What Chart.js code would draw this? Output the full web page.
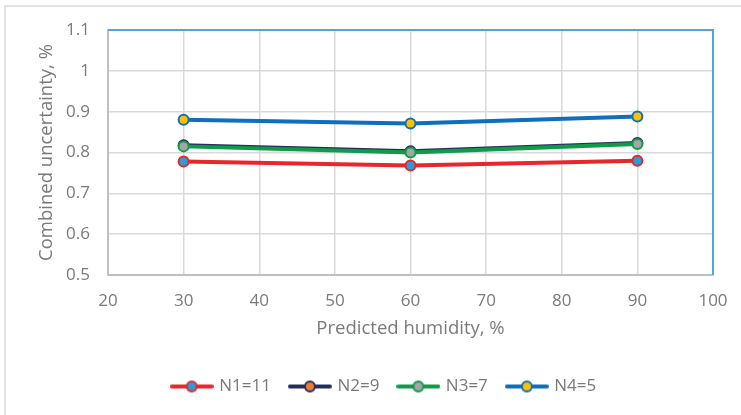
<!DOCTYPE html>
<html>
<head>
<meta charset="utf-8">
<script src="https://cdn.jsdelivr.net/npm/chart.js@4.4.1/dist/chart.umd.min.js"></script>
<style>
  html, body { margin: 0; padding: 0; background: #ffffff; }
  #wrap { width: 741px; height: 415px; position: relative; }
</style>
</head>
<body>
<div id="wrap"><canvas id="chart" width="741" height="415"></canvas></div>
<script>
// Predicted humidity (%) at which the combined uncertainty was evaluated
const humidity = [30, 60, 90];

// Combined uncertainty (%) for each number of reference points N
const seriesNames = ['N1=11', 'N2=9', 'N3=7', 'N4=5'];
const n1Values = [0.778, 0.768, 0.780];
const n2Values = [0.818, 0.803, 0.823];
const n3Values = [0.815, 0.800, 0.821];
const n4Values = [0.880, 0.871, 0.888];

// Axis ticks
const xTicks = [20, 30, 40, 50, 60, 70, 80, 90, 100];
const yTicks = [0.5, 0.6, 0.7, 0.8, 0.9, 1.0, 1.1];

const lineColors = ['#e8262b', '#262e5e', '#0f9b48', '#0f6ebe'];
const markerFills = ['#2e9bd6', '#ed7d31', '#a5a5a5', '#ffc000'];
const seriesValues = [n1Values, n2Values, n3Values, n4Values];
const drawOrder = [4, 3, 2, 1];

const FONT = '"Open Sans", "Noto Sans", sans-serif';
const TEXT = '#7a7a7a';

// Legend icon: a short line with the marker in its middle
function legendIcon(line, fill) {
  const c = document.createElement('canvas');
  c.width = 44; c.height = 14;
  const g = c.getContext('2d');
  g.strokeStyle = line; g.lineWidth = 4; g.lineCap = 'round';
  g.beginPath(); g.moveTo(2, 7); g.lineTo(42, 7); g.stroke();
  g.beginPath(); g.arc(22, 7, 5, 0, Math.PI * 2);
  g.fillStyle = fill; g.fill();
  g.lineWidth = 2; g.strokeStyle = line; g.stroke();
  return c;
}
const icons = lineColors.map((c, i) => legendIcon(c, markerFills[i]));

const datasets = seriesNames.map((name, i) => ({
  label: name,
  data: humidity.map((h, j) => ({ x: h, y: seriesValues[i][j] })),
  borderColor: lineColors[i],
  backgroundColor: markerFills[i],
  borderWidth: 4,
  pointRadius: 5,
  pointHoverRadius: 5,
  pointBorderWidth: 2,
  pointBackgroundColor: markerFills[i],
  pointBorderColor: lineColors[i],
  tension: 0,
  order: drawOrder[i]
}));

// Frame around the whole chart and the coloured top/right edges of the plot area
const frames = {
  id: 'frames',
  afterLayout(chart) {
    // centre the legend row under the plot rather than the full width
    if (chart.legend) { chart.legend.left += 28; chart.legend.right += 28; }
  },
  beforeDraw(chart) {
    const ctx = chart.ctx;
    ctx.save();
    ctx.fillStyle = '#ffffff';
    ctx.fillRect(0, 0, chart.width, chart.height);
    ctx.strokeStyle = '#d9d9d9';
    ctx.lineWidth = 1.5;
    ctx.beginPath();
    ctx.moveTo(5, chart.height);
    ctx.lineTo(5, 6);
    ctx.lineTo(chart.width, 6);
    ctx.stroke();
    ctx.restore();
  },
  beforeDatasetsDraw(chart) {
    const { ctx, chartArea: a } = chart;
    ctx.save();
    ctx.strokeStyle = '#4ea6dc';
    ctx.lineWidth = 2;
    ctx.beginPath();
    ctx.moveTo(a.left, a.top);
    ctx.lineTo(a.right, a.top);
    ctx.lineTo(a.right, a.bottom);
    ctx.stroke();
    ctx.restore();
  }
};

new Chart(document.getElementById('chart'), {
  type: 'line',
  data: { datasets },
  options: {
    responsive: false,
    animation: false,
    events: [],
    layout: { padding: { left: 0, right: 28, top: 30, bottom: 10 } },
    scales: {
      x: {
        type: 'linear',
        min: xTicks[0],
        max: xTicks[xTicks.length - 1],
        afterBuildTicks(scale) { scale.ticks = xTicks.map(v => ({ value: v })); },
        afterFit(scale) {
          scale.height = 83;
          scale.paddingLeft = 0;
          scale.paddingRight = 0;
        },
        ticks: { color: TEXT, font: { family: FONT, size: 17 }, padding: 16, maxRotation: 0 },
        grid: { color: '#d9d9d9', lineWidth: 1.5, drawTicks: false },
        border: { color: '#bfbfbf', width: 2 },
        title: {
          display: true, text: 'Predicted humidity, %', color: TEXT,
          font: { family: FONT, size: 18.5 }, padding: { top: 0, bottom: 18 }
        }
      },
      y: {
        type: 'linear',
        min: yTicks[0],
        max: yTicks[yTicks.length - 1],
        afterBuildTicks(scale) { scale.ticks = yTicks.map(v => ({ value: v })); },
        afterFit(scale) { scale.width = 108; },
        ticks: {
          color: TEXT, font: { family: FONT, size: 17 }, padding: 18,
          callback: v => String(Number(v.toFixed(1)))
        },
        grid: { color: '#d9d9d9', lineWidth: 1.5, drawTicks: false },
        border: { color: '#bfbfbf', width: 2 },
        title: {
          display: true, text: 'Combined uncertainty, %', color: TEXT,
          font: { family: FONT, size: 18.5 }, padding: { top: 36, bottom: 0 }
        }
      }
    },
    plugins: {
      tooltip: { enabled: false },
      legend: {
        position: 'bottom',
        labels: {
          usePointStyle: true,
          pointStyleWidth: 38,
          color: TEXT,
          font: { family: FONT, size: 17 },
          padding: 20,
          sort: (a, b) => a.datasetIndex - b.datasetIndex,
          generateLabels(chart) {
            const items = Chart.defaults.plugins.legend.labels.generateLabels(chart);
            items.forEach(it => { it.pointStyle = icons[it.datasetIndex]; });
            return items;
          }
        }
      }
    }
  },
  plugins: [frames]
});
</script>
</body>
</html>
